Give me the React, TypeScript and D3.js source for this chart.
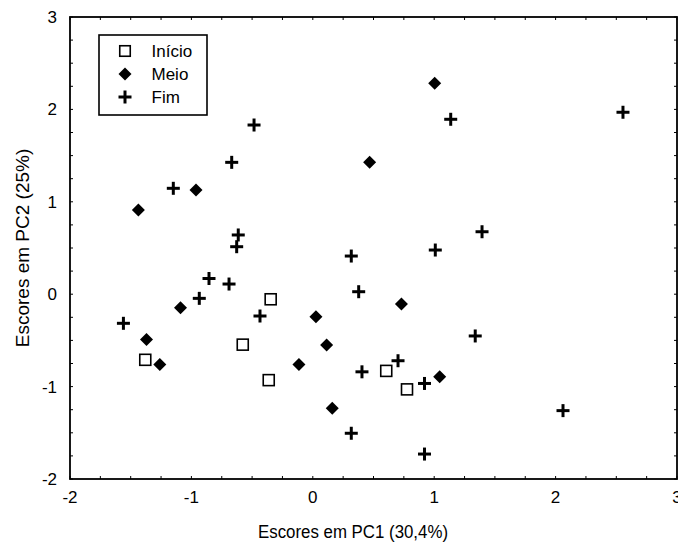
import React from "react";
import * as d3 from "d3";

const W = 678;
const H = 546;

// Início (squares)
const inicioX = [-1.38, -0.347, -0.577, -0.363, 0.605, 0.776];
const inicioY = [-0.71, -0.055, -0.546, -0.93, -0.83, -1.03];

// Meio (diamonds)
const meioX = [-1.37, -1.26, -1.09, 0.026, 0.114, -0.114, 0.16, 0.73, 1.045, 1.004, 0.468, -0.962, -1.437];
const meioY = [-0.49, -0.76, -0.146, -0.243, -0.55, -0.76, -1.235, -0.106, -0.893, 2.282, 1.427, 1.128, 0.911];

// Fim (plus)
const fimX = [-1.56, -0.935, -0.855, -0.69, -0.435, 0.378, 1.338, 0.702, 0.405, 0.92, 2.061, 0.317, 0.92,
  -0.484, -0.668, -1.149, -0.614, -0.627, 1.136, 2.555, 1.394, 1.009, 0.317];
const fimY = [-0.315, -0.045, 0.17, 0.11, -0.236, 0.027, -0.452, -0.72, -0.84, -0.966, -1.26, -1.505, -1.73,
  1.831, 1.427, 1.146, 0.641, 0.514, 1.893, 1.969, 0.676, 0.478, 0.413];

const xTicks = [-2, -1, 0, 1, 2, 3];
const yTicks = [-2, -1, 0, 1, 2, 3];
const legendLabels = ["Início", "Meio", "Fim"];
const xTitle = "Escores em PC1 (30,4%)";
const yTitle = "Escores em PC2 (25%)";

const FONT = "'Liberation Sans', Arial, sans-serif";

function Square({ cx, cy, s = 11 }: { cx: number; cy: number; s?: number }) {
  return <rect x={cx - s / 2} y={cy - s / 2} width={s} height={s} fill="white" stroke="black" strokeWidth={1.6} />;
}
function Diamond({ cx, cy, r = 6.5 }: { cx: number; cy: number; r?: number }) {
  return <path d={`M${cx},${cy - r}L${cx + r},${cy}L${cx},${cy + r}L${cx - r},${cy}Z`} fill="black" />;
}
function Plus({ cx, cy, r = 6.5 }: { cx: number; cy: number; r?: number }) {
  return (
    <g stroke="black" strokeWidth={3}>
      <line x1={cx - r} x2={cx + r} y1={cy} y2={cy} />
      <line x1={cx} x2={cx} y1={cy - r} y2={cy + r} />
    </g>
  );
}

export default function App() {
  const left = 70, right = 677, top = 17, bottom = 479;
  const x = d3.scaleLinear().domain([-2, 3]).range([left, right]);
  const y = d3.scaleLinear().domain([-2, 3]).range([bottom, top]);
  const minorX = d3.range(-2, 3.001, 0.25);
  const minorY = d3.range(-2, 3.001, 0.25);
  const tl = 3;

  return (
    <svg width={W} height={H} style={{ position: "absolute", left: 0, top: 0 }} fontFamily={FONT}>
      <rect width={W} height={H} fill="white" />
      {/* ticks */}
      <g stroke="black" strokeWidth={1}>
        {minorX.map((v, i) => (
          <g key={"tx" + i}>
            <line x1={x(v)} x2={x(v)} y1={bottom} y2={bottom - tl} />
            <line x1={x(v)} x2={x(v)} y1={top} y2={top + tl} />
          </g>
        ))}
        {minorY.map((v, i) => (
          <g key={"ty" + i}>
            <line x1={left} x2={left + tl} y1={y(v)} y2={y(v)} />
            <line x1={right} x2={right - tl} y1={y(v)} y2={y(v)} />
          </g>
        ))}
      </g>
      <rect x={left} y={top} width={right - left} height={bottom - top} fill="none" stroke="black" strokeWidth={1.8} />
      {/* tick labels */}
      <g fontSize={17} fill="black">
        {xTicks.map((v) => (
          <text key={"xl" + v} x={x(v)} y={bottom + 24} textAnchor="middle">{v}</text>
        ))}
        {yTicks.map((v) => (
          <text key={"yl" + v} x={left - 13} y={y(v)} dy="0.35em" textAnchor="end">{v}</text>
        ))}
      </g>
      <text x={353} y={538} fontSize={17.5} textAnchor="middle" textLength={190} lengthAdjust="spacingAndGlyphs">{xTitle}</text>
      <text transform={`translate(29,${(top + bottom) / 2}) rotate(-90)`} fontSize={19} textAnchor="middle">{yTitle}</text>
      {/* points */}
      {fimX.map((v, i) => <Plus key={"f" + i} cx={x(v)} cy={y(fimY[i])} />)}
      {meioX.map((v, i) => <Diamond key={"m" + i} cx={x(v)} cy={y(meioY[i])} />)}
      {inicioX.map((v, i) => <Square key={"i" + i} cx={x(v)} cy={y(inicioY[i])} />)}
      {/* legend */}
      <rect x={99} y={35} width={108} height={80} fill="white" stroke="black" strokeWidth={1.6} />
      {legendLabels.map((lab, i) => {
        const cy = 51 + i * 23;
        return (
          <g key={lab}>
            {i === 0 && <Square cx={125} cy={cy} s={10.5} />}
            {i === 1 && <Diamond cx={125} cy={cy} />}
            {i === 2 && <Plus cx={125} cy={cy} />}
            <text x={151.5} y={cy} dy="0.36em" fontSize={17}>{lab}</text>
          </g>
        );
      })}
    </svg>
  );
}
